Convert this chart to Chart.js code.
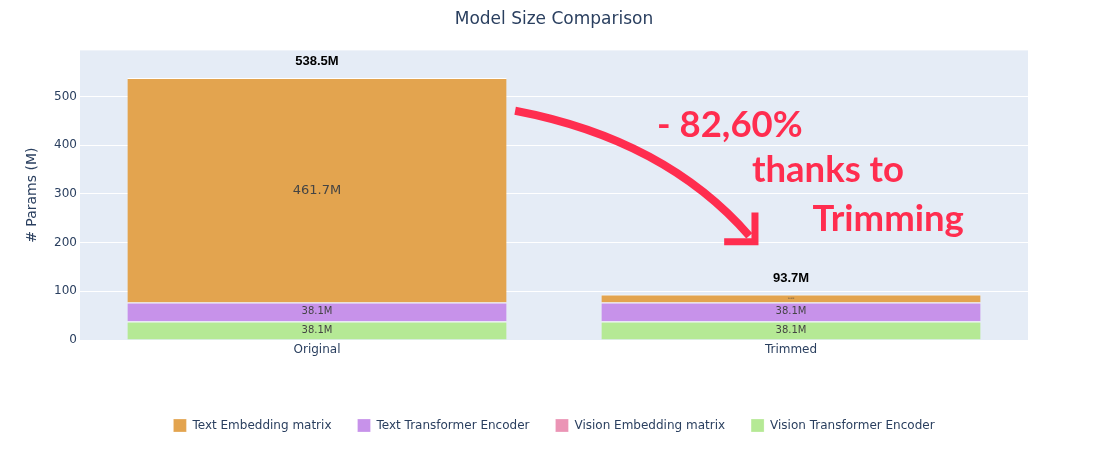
<!DOCTYPE html>
<html>
<head>
<meta charset="utf-8">
<script src="https://cdn.jsdelivr.net/npm/chart.js@4.4.1/dist/chart.umd.min.js"></script>
<style>
  html, body { margin: 0; padding: 0; background: #fff; }
  #wrap { width: 1108px; height: 450px; }
</style>
</head>
<body>
<div id="wrap"><canvas id="chart"></canvas></div>
<script>
// chart data
const categories = ['Original', 'Trimmed'];
const visionTransformer = [38.1, 38.1];
const visionEmbedding = [0.6, 0.6];
const textTransformer = [38.1, 38.1];
const textEmbedding = [461.7, 16.9];
const totals = [538.5, 93.7];
const yTicks = [0, 100, 200, 300, 400, 500];

const FONT = "'DejaVu Sans', verdana, arial, sans-serif";
const RED = '#ff2d4f';

// labels inside each bar segment + totals above the stacks
const barLabels = {
  id: 'barLabels',
  afterDatasetsDraw(chart) {
    const ctx = chart.ctx;
    ctx.save();
    ctx.textAlign = 'center';
    ctx.textBaseline = 'middle';
    chart.data.datasets.forEach((ds, i) => {
      const meta = chart.getDatasetMeta(i);
      meta.data.forEach((bar, j) => {
        const h = Math.abs(bar.base - bar.y);
        if (h < 3) return;
        let size = ds.data[j] > 100 ? 13 : 10;
        if (h < 14) size = Math.max(2, h * 0.25);
        ctx.font = size + 'px ' + FONT;
        ctx.fillStyle = '#444';
        ctx.fillText(ds.data[j].toFixed(1) + 'M', bar.x, (bar.y + bar.base) / 2);
      });
    });
    // totals
    const top = chart.getDatasetMeta(chart.data.datasets.length - 1);
    ctx.font = "bold 13px 'Liberation Sans', Arial, sans-serif";
    ctx.fillStyle = '#000';
    top.data.forEach((bar, j) => {
      ctx.fillText(totals[j].toFixed(1) + 'M', bar.x, bar.y - 16);
    });
    ctx.restore();
  }
};

// the red arrow and note
const trimNote = {
  id: 'trimNote',
  afterDraw(chart) {
    const x = chart.scales.x, y = chart.scales.y, ctx = chart.ctx;
    const px = v => x.getPixelForValue(v);
    const py = v => y.getPixelForValue(v);
    ctx.save();
    ctx.strokeStyle = RED;
    ctx.fillStyle = RED;
    ctx.lineWidth = 8;
    ctx.beginPath();
    ctx.moveTo(px(0.418), py(471));
    ctx.quadraticCurveTo(px(0.735), py(412), px(0.912), py(214));
    ctx.stroke();
    // arrow head
    ctx.lineWidth = 7;
    ctx.lineJoin = 'miter';
    ctx.beginPath();
    ctx.moveTo(px(0.924), py(262));
    ctx.lineTo(px(0.924), py(202));
    ctx.lineTo(px(0.859), py(202));
    ctx.stroke();

    ctx.font = "bold 36.5px Lato, 'Open Sans', sans-serif";
    ctx.textAlign = 'center';
    ctx.textBaseline = 'alphabetic';
    ctx.fillText('- 82,60%', px(0.871), py(418));
    ctx.fillText('thanks to', px(1.078), py(325));
    ctx.fillText('Trimming', px(1.205), py(224));
    ctx.restore();
  }
};

const plotBg = {
  id: 'plotBg',
  beforeDraw(chart) {
    const a = chart.chartArea, ctx = chart.ctx;
    ctx.save();
    ctx.fillStyle = '#e5ecf6';
    ctx.fillRect(a.left, a.top, a.right - a.left, a.bottom - a.top);
    ctx.restore();
  }
};

const ctx = document.getElementById('chart').getContext('2d');
const chart = new Chart(ctx, {
  type: 'bar',
  data: {
    labels: categories,
    datasets: [
      { label: 'Vision Transformer Encoder', data: visionTransformer, backgroundColor: '#b5e995' },
      { label: 'Vision Embedding matrix', data: visionEmbedding, backgroundColor: '#eb94b5' },
      { label: 'Text Transformer Encoder', data: textTransformer, backgroundColor: '#c792ea' },
      { label: 'Text Embedding matrix', data: textEmbedding, backgroundColor: '#e3a44f' }
    ]
  },
  options: {
    responsive: true,
    maintainAspectRatio: false,
    animation: false,
    datasets: {
      bar: {
        categoryPercentage: 0.8,
        barPercentage: 1,
        borderColor: '#fff',
        borderWidth: { top: 1, left: 0, right: 0, bottom: 0 },
        borderSkipped: false
      }
    },
    layout: { padding: { left: 0, right: 0, top: 0, bottom: 8 } },
    scales: {
      x: {
        stacked: true,
        grid: { display: false, drawTicks: false },
        border: { display: false },
        ticks: { color: '#2a3f5f', font: { family: FONT, size: 12 }, padding: 3 },
        afterFit(scale) { scale.height = 53; }
      },
      y: {
        stacked: true,
        min: 0,
        max: 595,
        grid: { color: '#fff', lineWidth: 1, drawTicks: false },
        border: { display: false },
        afterBuildTicks(scale) { scale.ticks = yTicks.map(v => ({ value: v })); },
        ticks: { color: '#2a3f5f', font: { family: FONT, size: 12 }, padding: 3 },
        title: { display: true, text: '# Params (M)', color: '#2a3f5f', font: { family: FONT, size: 14 }, padding: { top: 24, bottom: 0 } },
        afterFit(scale) { scale.width = 80; }
      },
      // empty right margin so the plot is centred like the original
      yRight: {
        position: 'right',
        grid: { display: false },
        border: { display: false },
        ticks: { display: false },
        afterFit(scale) { scale.width = 80; }
      }
    },
    plugins: {
      title: {
        display: true,
        text: 'Model Size Comparison',
        color: '#2a3f5f',
        font: { family: FONT, size: 17, weight: 'normal' },
        padding: { top: 9, bottom: 21 }
      },
      legend: {
        position: 'bottom',
        reverse: true,
        labels: {
          color: '#2a3f5f',
          font: { family: FONT, size: 12 },
          boxWidth: 13,
          boxHeight: 13,
          padding: 26
        }
      },
      tooltip: { enabled: false }
    }
  },
  plugins: [plotBg, barLabels, trimNote]
});
</script>
</body>
</html>
